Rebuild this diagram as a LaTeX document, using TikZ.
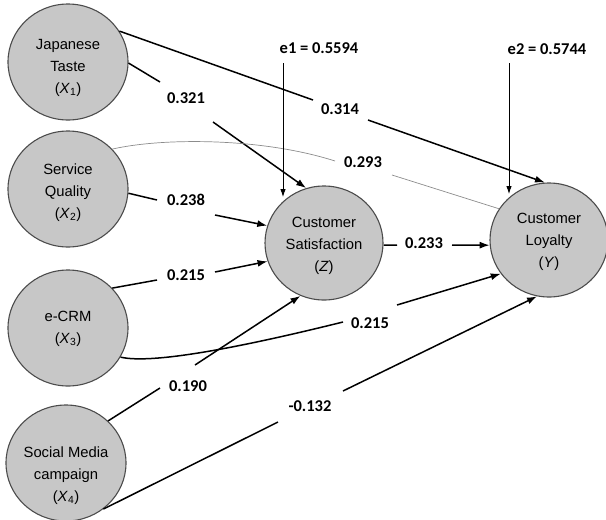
\documentclass[tikz,border=0pt]{standalone}
\usepackage{fontspec}
\setmainfont{Liberation Sans}
\newfontfamily\nodefont{Liberation Sans}
\newfontfamily\numfont{Carlito}[BoldFont={Carlito Bold}]
\usetikzlibrary{shapes.geometric,arrows.meta}
% text block centred a given amount below the node centre
\newcommand\lowered[2]{\raisebox{\dimexpr -#1 - 3.6pt\relax}[0pt][0pt]{\begin{tabular}{@{}c@{}}#2\end{tabular}}}

\begin{document}
\begin{tikzpicture}[x=1pt,y=1pt,
  latent/.style={ellipse, draw=black!70, line width=1.1pt, fill=black!22,
    minimum width=120pt, minimum height=116pt, inner sep=0pt,
    font=\nodefont\fontsize{14.8}{22}\selectfont},
  endo/.style={latent, minimum width=118pt, minimum height=114pt},
  coef/.style={font=\numfont\bfseries\fontsize{16.5}{18}\selectfont, inner sep=1pt},
  link/.style={line width=1.5pt, black},
  tip/.style={-{Latex[length=10pt,width=7pt]}},
  faint/.style={line width=0.7pt, black!45},
  errarrow/.style={line width=0.9pt, black, -{Latex[length=8pt,width=5.5pt]}}]
\useasboundingbox (0,0) rectangle (606,-520);

% latent variables
\node[latent] (X1) at (68,-62) {\lowered{5pt}{Japanese\\Taste\\(\textit{X}\textsubscript{1})}};
\node[latent] (X2) at (68,-189) {\lowered{3pt}{Service\\Quality\\(\textit{X}\textsubscript{2})}};
\node[latent] (X3) at (68,-328) {\lowered{0pt}{e-CRM\\(\textit{X}\textsubscript{3})}};
\node[latent] (X4) at (66,-463) {\lowered{12pt}{Social Media\\campaign\\(\textit{X}\textsubscript{4})}};
\node[endo] (Z) at (324,-243) {\lowered{2pt}{Customer\\Satisfaction\\(\textit{Z})}};
\node[endo] (Y) at (549,-240) {\lowered{1pt}{Customer\\Loyalty\\(\textit{Y})}};

% coefficient labels
\node[coef] (e1) at (319,-48) {e1 = 0.5594};
\node[coef] (e2) at (547,-49) {e2 = 0.5744};
\node[coef] (l321) at (186,-98) {0.321};
\node[coef] (l314) at (340,-109) {0.314};
\node[coef] (l293) at (363,-162) {0.293};
\node[coef] (l238) at (186,-200) {0.238};
\node[coef] (l233) at (424,-243) {0.233};
\node[coef] (l215a) at (186,-275) {0.215};
\node[coef] (l215b) at (370,-323) {0.215};
\node[coef] (l190) at (188,-386) {0.190};
\node[coef] (l132) at (310,-406) {-0.132};

% gap ends of the connectors around their labels
\coordinate (g314a) at (313,-100); \coordinate (g314b) at (368,-120);
\coordinate (g321a) at (160,-82);  \coordinate (g321b) at (213,-122);
\coordinate (g293a) at (335,-161); \coordinate (g293b) at (392,-175);
\coordinate (g238a) at (157,-200); \coordinate (g238b) at (215,-215);
\coordinate (g233a) at (397,-245); \coordinate (g233b) at (452,-245);
\coordinate (g215aa) at (157,-280); \coordinate (g215ab) at (215,-272);
\coordinate (g215ba) at (343,-322); \coordinate (g215bb) at (397,-305);
\coordinate (g190a) at (160,-388); \coordinate (g190b) at (195,-365);
\coordinate (g132a) at (278,-422); \coordinate (g132b) at (343,-391);
\coordinate (e1s) at (283,-63);
\coordinate (e2s) at (509,-63);

% X1
\draw[link] (X1.31) -- (g314a);
\draw[link,tip] (g314b) -- (Y.94);
\draw[link] (X1.-1) -- (g321a);
\draw[link,tip] (g321b) -- (Z.108);
% X2
\draw[faint] (X2.42) .. controls (160,-138) and (260,-137) .. (g293a);
\draw[faint] (g293b) -- (Y.148);
\draw[link] (X2.-4) -- (g238a);
\draw[link,tip] (g238b) -- (Z.163);
% X3
\draw[link] (X3.42) -- (g215aa);
\draw[link,tip] (g215ab) -- (Z.198);
\draw[link] (X3.-29) .. controls (150,-364) and (230,-350) .. (g215ba);
\draw[link,tip] (g215bb) -- (Y.215);
% X4
\draw[link] (X4.45) -- (g190a);
\draw[link,tip] (g190b) -- (Z.246);
\draw[link] (X4.-51) -- (g132a);
\draw[link,tip] (g132b) -- (Y.258);
% Z -> Y
\draw[link] (Z.-2) -- (g233a);
\draw[link,tip] (g233b) -- (Y.185);
% error terms
\draw[errarrow] (e1s) -- (e1s |- Z.128);
\draw[errarrow] (e2s) -- (e2s |- Y.128);
\end{tikzpicture}
\end{document}
